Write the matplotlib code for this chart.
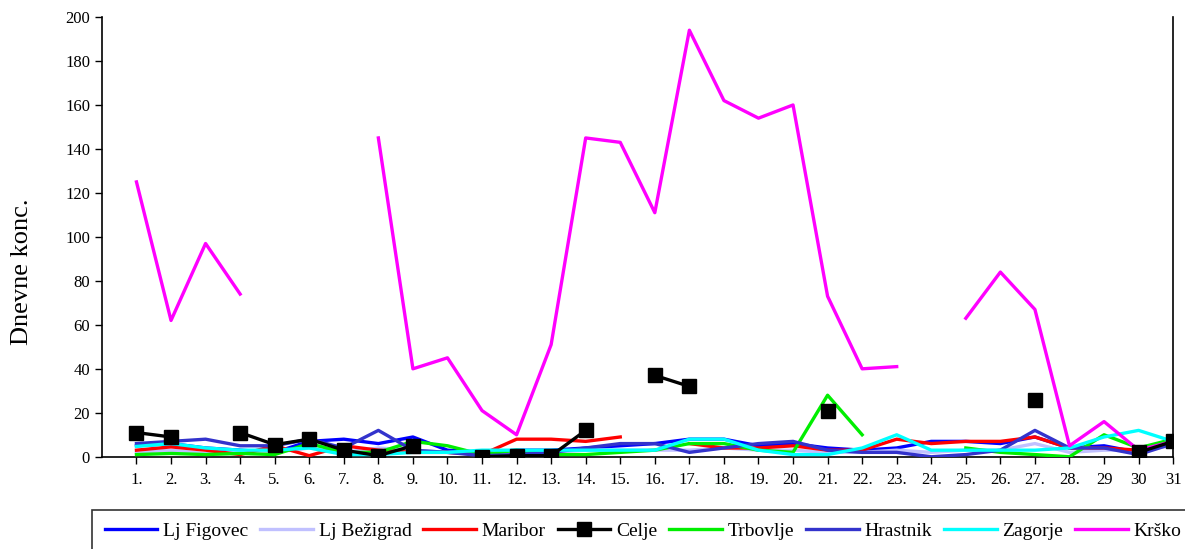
import numpy as np
import matplotlib
matplotlib.use("Agg")
from matplotlib import pyplot as plt

nan = np.nan
days = np.arange(1, 32)
day_labels = [f"{d}." for d in range(1, 29)] + ["29", "30", "31"]

lj_figovec = [5, 6, 4, 3, 2, 7, 8, 6, 9, 3, 2, 3, 3, 4, 5, 6, 8, 8, 5, 6, 4, 3, 4, 7, 7, 6, 9, 4, 5, 2, 6]
lj_bezigrad = [2, 3, 1.5, 2, 2, 4, 2, 4, 3, 2, 2, 2, 2, 3, 3, 3, 3, 4, 3, 3, 2, 2, 3, 2, 3, 3, 6, 2, 3, 3, 5]
maribor = [3, 4.5, 3, 1, 5, 0.5, 5, 3, 2, 2, 1, 8, 8, 7, 9, nan, 6, 4, 4, 5, 3, 3, 8, 6, 7, 7, 9, 4, 4, 3, 6]
celje = [11, 9, nan, 11, 5.5, 8, 3, 0.5, 5, nan, 0, 0.5, 0.5, 12, nan, 37, 32, nan, nan, nan, 21, nan,
         nan, nan, nan, nan, 26, nan, nan, 2, 7]
trbovlje = [1, 1.5, 1, 1.5, 1, 6, 2, 2, 7, 5, 1, 3, 1, 1, 2, 3, 6, 6, 3, 2, 28, 10, nan, nan, 4, 2, 1, 0,
            10, 4, 8]
hrastnik = [6, 7, 8, 5, 5, 8, 4, 12, 3, 2, 0.5, 1, 2, 4, 6, 6, 2, 4, 6, 7, 3, 2, 2, 0, 1, 3, 12, 4, 4, 1, 6]
zagorje = [4.7, 6, 4, 3, 3, 4, 1, 1, 2, 2, 3, 3, 3, 3, 3, 3, 8, 8, 3, 1, 1, 4, 10, 3, 3, 3, 3, 4, 9, 12, 7]
krsko = [125, 62, 97, 74, nan, nan, nan, 145, 40, 45, 21, 10, 51, 145, 143, 111, 194, 162, 154, 160, 73,
         40, 41, nan, 63, 84, 67, 5, 16, 3, 7]

series = [
    ("Lj Figovec", lj_figovec, "#0000ff"),
    ("Lj Bežigrad", lj_bezigrad, "#c0c0ff"),
    ("Maribor", maribor, "#ff0000"),
    ("Celje", celje, "#000000"),
    ("Trbovlje", trbovlje, "#00ee00"),
    ("Hrastnik", hrastnik, "#3333cc"),
    ("Zagorje", zagorje, "#00ffff"),
    ("Krško", krsko, "#ff00ff"),
]

plt.rcParams['font.family'] = ['Liberation Serif', 'DejaVu Serif']

fig = plt.figure(figsize=(11.85, 5.49), dpi=100)
ax = fig.add_axes([0.086, 0.168, 0.904, 0.801])

for name, vals, col in series:
    if name == "Celje":
        ax.plot(days, vals, color=col, lw=2.4, marker="s", markersize=10.5, label=name, zorder=5)
    else:
        ax.plot(days, vals, color=col, lw=2.4, label=name, zorder=3)

ax.set_xlim(0, 31)
ax.set_ylim(0, 200)
ax.set_yticks(range(0, 201, 20))
ax.set_xticks(days)
ax.set_xticklabels(day_labels)
ax.tick_params(axis="both", direction="out", length=5, width=1, labelsize=12, colors="black")
ax.tick_params(axis="x", pad=6)
ax.spines["top"].set_visible(False)
for s in ["left", "bottom", "right"]:
    ax.spines[s].set_linewidth(1.2)
ax.set_ylabel("Dnevne konc.", fontsize=19)
ax.yaxis.set_label_coords(-0.064, 0.42)

leg = fig.legend(loc="upper left", bbox_to_anchor=(0.0776, 0.011, 0.93, 0.06), mode="expand",
                 ncol=8, fontsize=14, handlelength=2.7, handletextpad=0.3, columnspacing=0.45,
                 frameon=True, fancybox=False, borderaxespad=0, borderpad=0.65)
leg.get_frame().set_edgecolor("black")
leg.get_frame().set_linewidth(1.2)

plt.savefig("out.png", dpi=100)
